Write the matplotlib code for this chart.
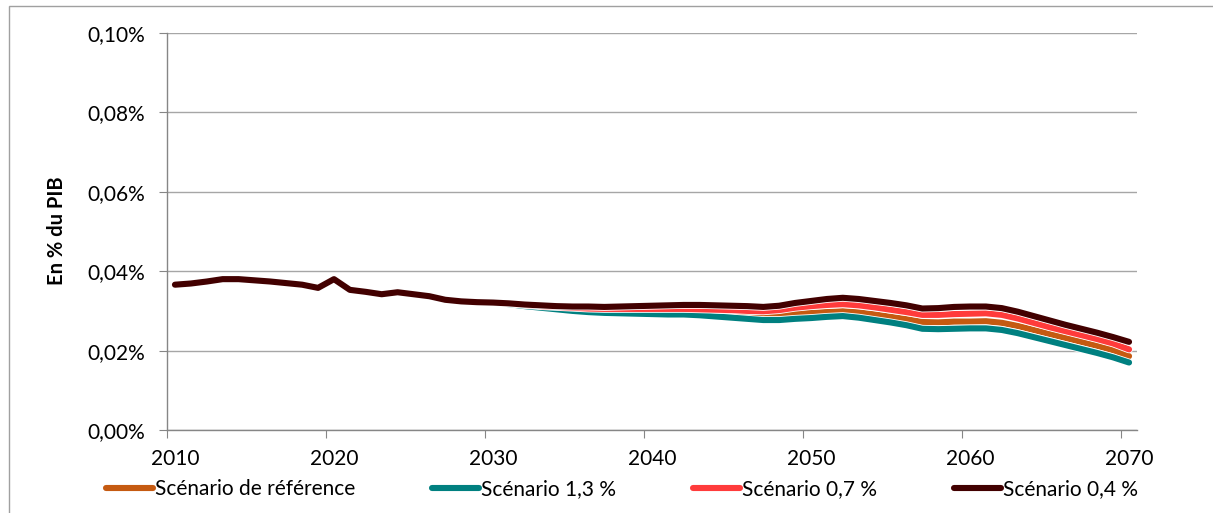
import matplotlib
matplotlib.use("Agg")
import matplotlib.pyplot as plt
import matplotlib.patheffects as pe
from matplotlib.patches import Rectangle
from matplotlib.ticker import FixedLocator, FuncFormatter, NullFormatter

plt.rcParams['font.family'] = ['Lato', 'DejaVu Sans']

years = list(range(2010, 2071))

# 2010-2030 identical in all scenarios
common = [0.0366, 0.0369, 0.0374, 0.0380, 0.0380, 0.0377, 0.0374, 0.0370, 0.0366, 0.0358,
          0.0380, 0.0353, 0.0348, 0.0342, 0.0347, 0.0342, 0.0337, 0.0328, 0.0324, 0.0322,
          0.0321]

ref_tail = [0.0318, 0.0314, 0.0311, 0.0308, 0.0305, 0.0303, 0.0301, 0.0300, 0.0299, 0.0299,
            0.0299, 0.0299, 0.0298, 0.0296, 0.0294, 0.0292, 0.0289, 0.0291, 0.0293, 0.0295,
            0.0297, 0.0299, 0.0296, 0.0291, 0.0285, 0.0279, 0.0272, 0.0271, 0.0273, 0.0273,
            0.0274, 0.0270, 0.0262, 0.0252, 0.0242, 0.0232, 0.0222, 0.0212, 0.0201, 0.0186]
s13_tail = [0.0317, 0.0312, 0.0308, 0.0304, 0.0300, 0.0297, 0.0295, 0.0294, 0.0293, 0.0292,
            0.0291, 0.0291, 0.0289, 0.0286, 0.0283, 0.0280, 0.0277, 0.0277, 0.0280, 0.0282,
            0.0285, 0.0287, 0.0283, 0.0277, 0.0271, 0.0264, 0.0255, 0.0254, 0.0255, 0.0256,
            0.0256, 0.0252, 0.0244, 0.0234, 0.0224, 0.0214, 0.0204, 0.0194, 0.0183, 0.0170]
s07_tail = [0.0319, 0.0315, 0.0312, 0.0310, 0.0308, 0.0306, 0.0305, 0.0305, 0.0305, 0.0305,
            0.0305, 0.0305, 0.0304, 0.0303, 0.0302, 0.0300, 0.0299, 0.0302, 0.0308, 0.0312,
            0.0315, 0.0317, 0.0314, 0.0309, 0.0303, 0.0297, 0.0290, 0.0290, 0.0292, 0.0293,
            0.0294, 0.0290, 0.0281, 0.0270, 0.0259, 0.0249, 0.0239, 0.0229, 0.0218, 0.0203]
s04_tail = [0.0319, 0.0316, 0.0314, 0.0312, 0.0311, 0.0311, 0.0310, 0.0311, 0.0312, 0.0313,
            0.0314, 0.0315, 0.0315, 0.0314, 0.0313, 0.0312, 0.0310, 0.0313, 0.0320, 0.0325,
            0.0330, 0.0333, 0.0330, 0.0325, 0.0320, 0.0314, 0.0306, 0.0307, 0.0310, 0.0311,
            0.0311, 0.0307, 0.0298, 0.0287, 0.0276, 0.0265, 0.0255, 0.0245, 0.0234, 0.0222]

labels = ["Scénario de référence", "Scénario 1,3 %", "Scénario 0,7 %", "Scénario 0,4 %"]
colors = ["#C55A11", "#008080", "#FF3B3B", "#420000"]
series = [common + ref_tail, common + s13_tail, common + s07_tail, common + s04_tail]

fig = plt.figure(figsize=(12.13, 5.13), dpi=100)
ax = fig.add_axes([167 / 1213, 1 - 430 / 513, (1137 - 167) / 1213, (430 - 33) / 513])

for vals, col, lab in zip(series, colors, labels):
    ax.plot(years, vals, color=col, lw=4.4, label=lab, solid_capstyle='round',
            path_effects=[pe.Stroke(linewidth=5.6, foreground='white'), pe.Normal()])

ax.set_xlim(2009.5, 2070.5)
ax.set_ylim(0, 0.10)

# category axis: ticks between categories, labels on categories
ax.xaxis.set_major_locator(FixedLocator([y - 0.5 for y in range(2010, 2071, 10)]))
ax.xaxis.set_major_formatter(NullFormatter())
ax.xaxis.set_minor_locator(FixedLocator(list(range(2010, 2071, 10))))
ax.xaxis.set_minor_formatter(FuncFormatter(lambda v, p: f"{int(round(v))}"))
ax.tick_params(axis='x', which='major', direction='out', length=6, color='#868686')
ax.tick_params(axis='x', which='minor', length=0, pad=14, labelsize=15)

ax.set_yticks([0, 0.02, 0.04, 0.06, 0.08, 0.10])
ax.yaxis.set_major_formatter(FuncFormatter(lambda v, p: f"{v:.2f}%".replace('.', ',')))
ax.tick_params(axis='y', direction='out', length=6, color='#868686', pad=10, labelsize=15)

ax.grid(axis='y', color='#a6a6a6', lw=1)
ax.set_axisbelow(True)
for s in ['top', 'right']:
    ax.spines[s].set_visible(False)
for s in ['left', 'bottom']:
    ax.spines[s].set_color('#868686')
    ax.spines[s].set_linewidth(1)

fig.text(57 / 1213, 1 - 231 / 513, "En % du PIB", rotation=90, fontsize=14.5,
         fontweight='bold', ha='center', va='center')

fig.legend(loc='center', bbox_to_anchor=(622 / 1213, 1 - 489 / 513), ncol=4,
           frameon=False, fontsize=15, handlelength=2.25, handletextpad=0.1,
           columnspacing=3.7, borderpad=0)

fig.patches.append(Rectangle((9 / 1213, -0.1), 1.1, 1.1 - 6 / 513, transform=fig.transFigure,
                             fill=False, edgecolor='#a0a0a0', lw=1))

fig.savefig("out.png", dpi=100)
